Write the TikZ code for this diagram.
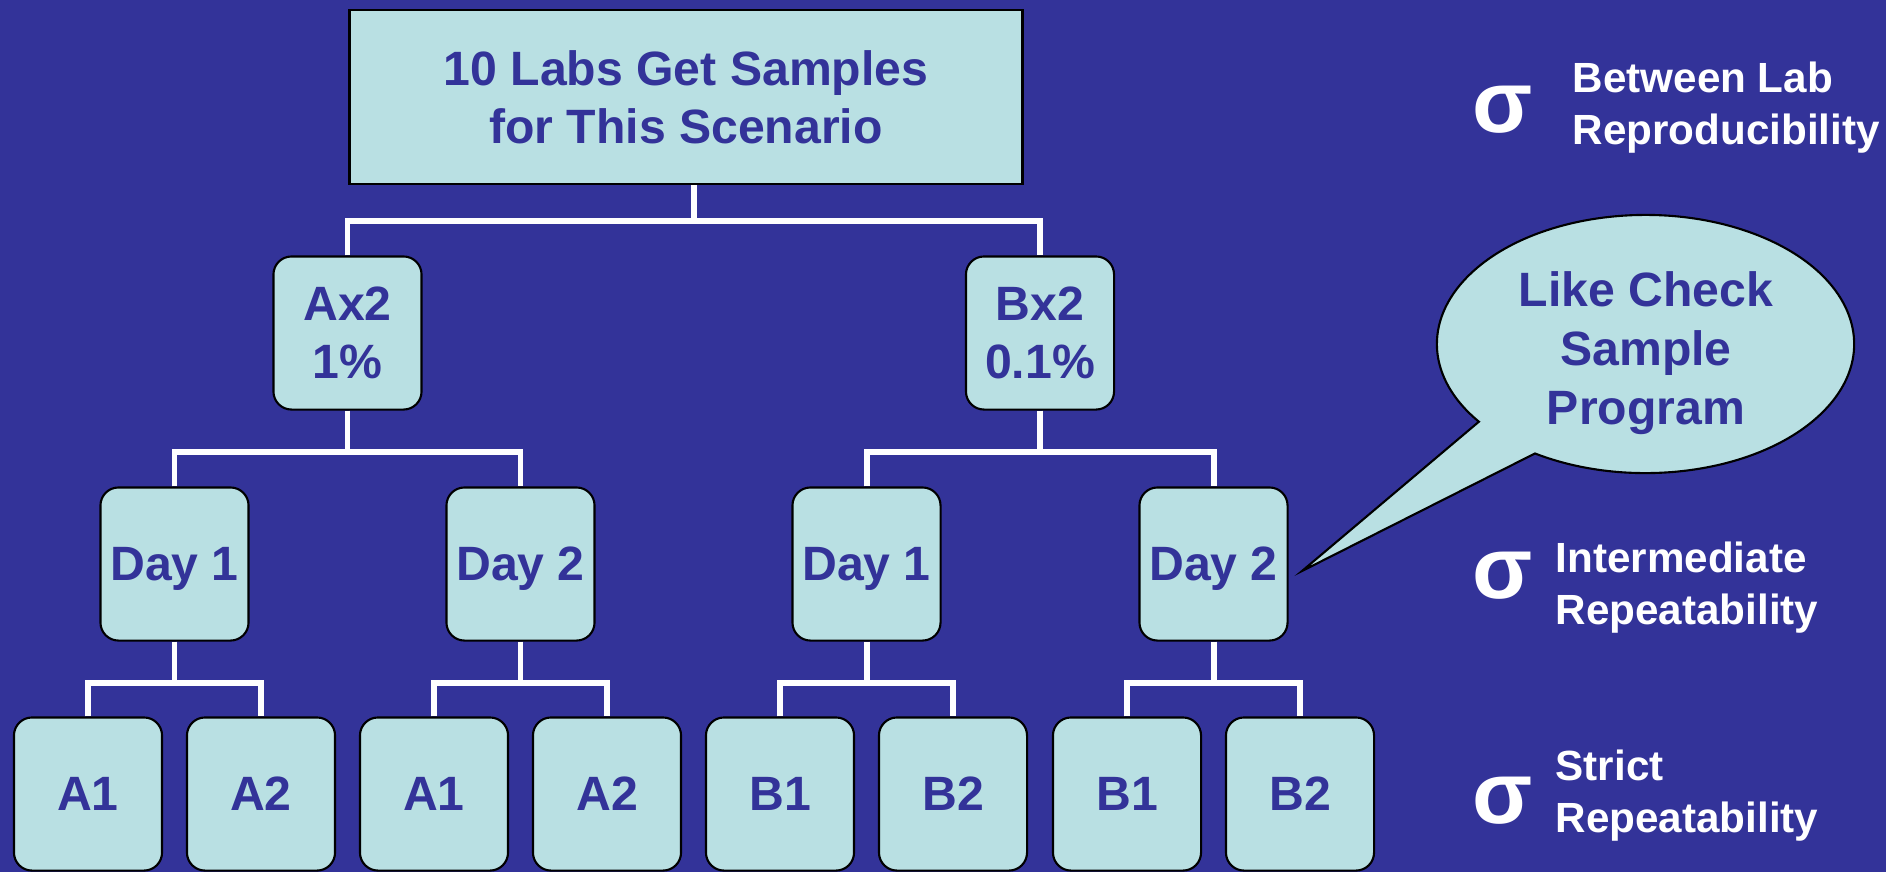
\documentclass[tikz,border=0pt]{standalone}
\usepackage{fontspec}
\setmainfont{Liberation Sans}
\definecolor{slideblue}{HTML}{333399}
\definecolor{boxcyan}{HTML}{B9E0E3}
\tikzset{
  cell/.style={draw=black, line width=0.6pt, fill=boxcyan, rounded corners=0.18cm,
    minimum width=1.48cm, minimum height=1.53cm, inner sep=0pt, align=center,
    text=slideblue, text depth=0pt, font=\bfseries\fontsize{13.7}{16.4}\selectfont},
  link/.style={draw=white, line width=1.7pt},
  sigma/.style={text=white, inner sep=0pt, font=\bfseries\fontsize{25}{28}\selectfont},
  note/.style={text=white, inner sep=0pt, anchor=north west, align=left,
    font=\bfseries\fontsize{12}{14.9}\selectfont},
}
\begin{document}
\begin{tikzpicture}[x=0.01cm, y=-0.01cm]
    \useasboundingbox (0,0) rectangle (1900,872);
    \fill[white] (0,0) rectangle (1900,872);
    \fill[slideblue] (0,0) rectangle (1886,872);

    \node[cell, rounded corners=0pt, line width=0.8pt, minimum width=6.72cm, minimum height=1.74cm] (top) at (686,97) {10 Labs Get Samples\\for This Scenario};
    \node[cell] (ax2) at (347.5,333) {Ax2\\1\%};
    \node[cell] (bx2) at (1040,333) {Bx2\\0.1\%};
    \node[cell] (dayA1) at (174.5,564) {Day 1};
    \node[cell] (dayA2) at (520.5,564) {Day 2};
    \node[cell] (dayB1) at (866.5,564) {Day 1};
    \node[cell] (dayB2) at (1213.5,564) {Day 2};
    \node[cell] (leafA11) at (88,794) {A1};
    \node[cell] (leafA12) at (261,794) {A2};
    \node[cell] (leafA21) at (434,794) {A1};
    \node[cell] (leafA22) at (607,794) {A2};
    \node[cell] (leafB11) at (780,794) {B1};
    \node[cell] (leafB12) at (953,794) {B2};
    \node[cell] (leafB21) at (1127,794) {B1};
    \node[cell] (leafB22) at (1300,794) {B2};

    \coordinate (j0) at (693.75,221);
    \coordinate (jA) at (347.5,452);
    \coordinate (jB) at (1040,452);
    \coordinate (jA1) at (174.5,683);
    \coordinate (jA2) at (520.5,683);
    \coordinate (jB1) at (866.5,683);
    \coordinate (jB2) at (1213.5,683);
    \draw[link] (j0 |- top.south) -- (j0);
    \draw[link] (ax2.north) |- (j0) -| (bx2.north);
    \draw[link] (ax2.south) -- (jA);
    \draw[link] (dayA1.north) |- (jA) -| (dayA2.north);
    \draw[link] (bx2.south) -- (jB);
    \draw[link] (dayB1.north) |- (jB) -| (dayB2.north);
    \draw[link] (dayA1.south) -- (jA1);
    \draw[link] (leafA11.north) |- (jA1) -| (leafA12.north);
    \draw[link] (dayA2.south) -- (jA2);
    \draw[link] (leafA21.north) |- (jA2) -| (leafA22.north);
    \draw[link] (dayB1.south) -- (jB1);
    \draw[link] (leafB11.north) |- (jB1) -| (leafB12.north);
    \draw[link] (dayB2.south) -- (jB2);
    \draw[link] (leafB21.north) |- (jB2) -| (leafB22.north);

    \coordinate (bc) at (1645.5,344);
    \coordinate (tip) at (1302,571);
    \draw[line width=0.6pt, fill=boxcyan] (bc) ++(238:2.085cm and 1.29cm) arc[start angle=238, end angle=577, x radius=2.085cm, y radius=1.29cm] -- (tip) -- cycle;
    \node[align=center, inner sep=0pt, text=slideblue, font=\bfseries\fontsize{13.7}{16.8}\selectfont] (bubble) at (1646,353) {Like Check\\Sample\\Program};

    \node[sigma] (sig1) at (1503,110) {σ};
    \node[sigma] (sig2) at (1503,576) {σ};
    \node[sigma] (sig3) at (1503,801) {σ};
    \node[note] (lab1) at (1572,61) {Between Lab\\Reproducibility};
    \node[note] (lab2) at (1555,541) {Intermediate\\Repeatability};
    \node[note] (lab3) at (1555,749) {Strict\\Repeatability};
\end{tikzpicture}
\end{document}
